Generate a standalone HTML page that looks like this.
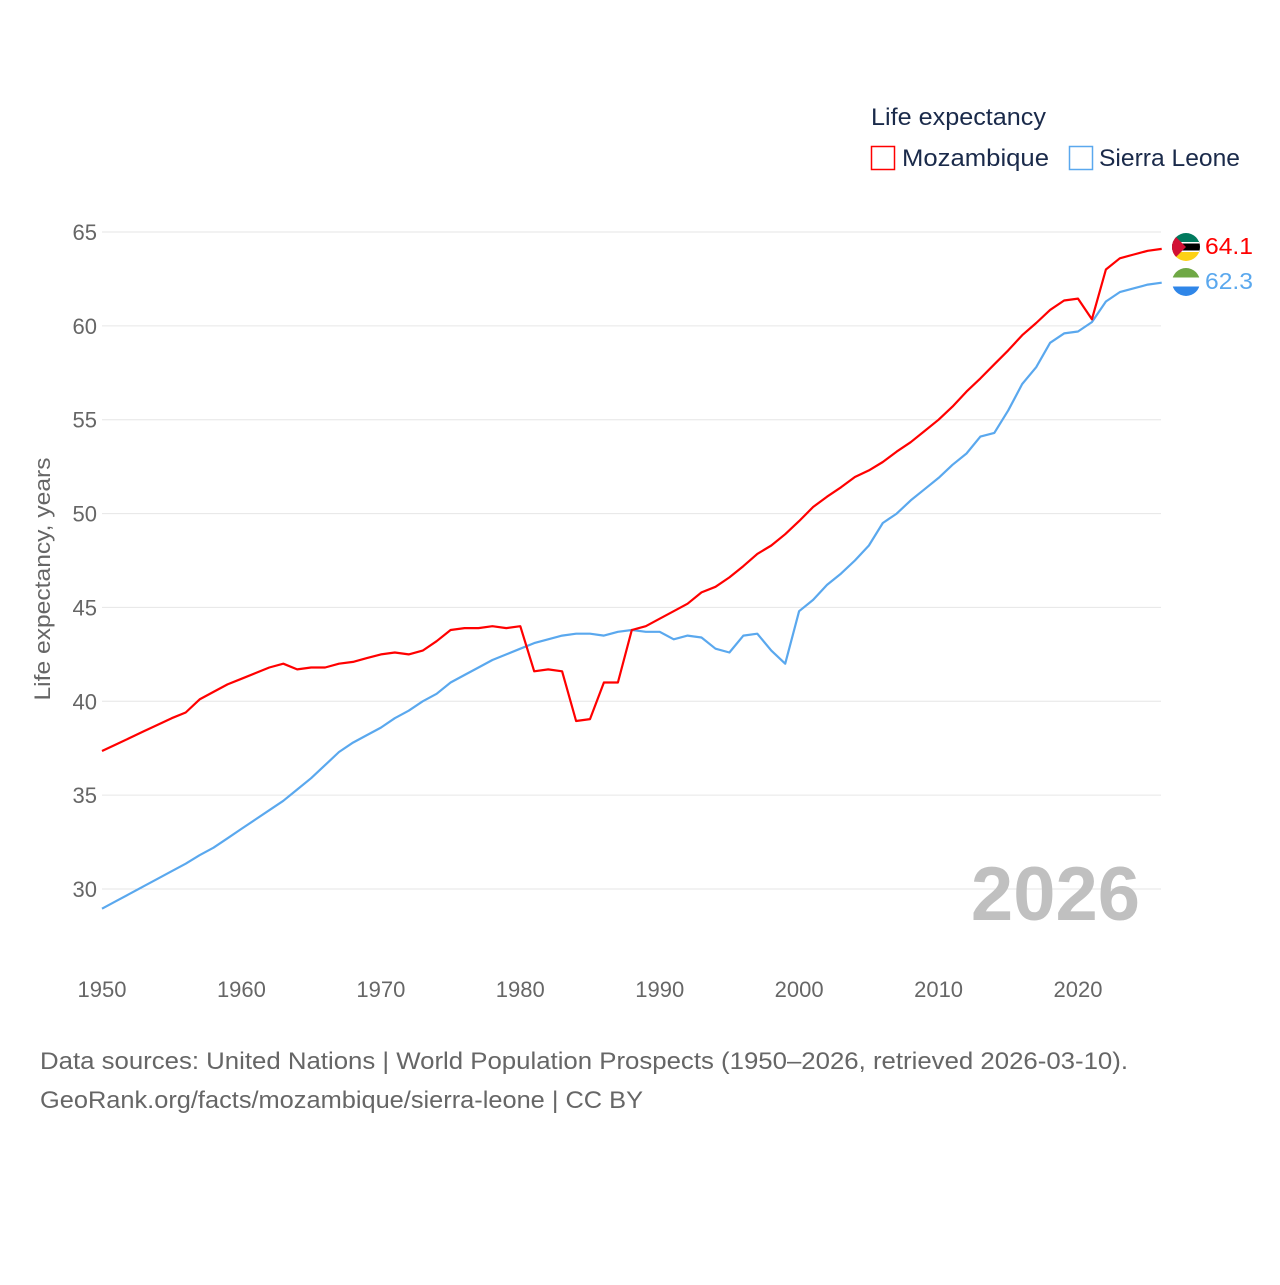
<!DOCTYPE html>
<html><head><meta charset="utf-8"><style>
body{margin:0;background:#fff;}
svg text{font-family:"Liberation Sans",sans-serif;}
</style></head><body>
<svg id="chart" width="1280" height="1280" xmlns="http://www.w3.org/2000/svg">
<g id="grid"></g>
<g id="xticks"></g>
<text x="50" y="579" font-size="22" fill="#666" text-anchor="middle" textLength="243" lengthAdjust="spacingAndGlyphs" transform="rotate(-90 50 579)">Life expectancy, years</text>
<text x="1140" y="920" font-size="76" font-weight="bold" fill="#c0c0c0" text-anchor="end">2026</text>
<g id="lines"></g>
<g>
<text x="871" y="125" font-size="24" fill="#1a2a4a" textLength="175" lengthAdjust="spacingAndGlyphs">Life expectancy</text>
<g><rect x="871.5" y="146.5" width="23" height="23" fill="none" stroke="#ff0000" stroke-width="1.5"/><text x="902" y="166" font-size="24" fill="#1a2a4a" textLength="147" lengthAdjust="spacingAndGlyphs">Mozambique</text></g>
<g><rect x="1069.5" y="146.5" width="23" height="23" fill="none" stroke="#5aa8ee" stroke-width="1.5"/><text x="1099" y="166" font-size="24" fill="#1a2a4a" textLength="141" lengthAdjust="spacingAndGlyphs">Sierra Leone</text></g>
</g>
<defs><clipPath id="c1"><circle cx="1186" cy="247" r="14"/></clipPath><clipPath id="c2"><circle cx="1186" cy="282" r="14"/></clipPath></defs>
<g clip-path="url(#c1)">
<rect x="1172" y="233" width="28" height="9" fill="#007a5e"/><rect x="1172" y="242" width="28" height="10" fill="#000"/><rect x="1172" y="242" width="28" height="1.5" fill="#fff"/><rect x="1172" y="250.5" width="28" height="1.5" fill="#fff"/><rect x="1172" y="252" width="28" height="9" fill="#fcd116"/><polygon points="1172,233 1186,247 1172,261" fill="#d21034"/></g>
<g clip-path="url(#c2)">
<rect x="1172" y="268" width="28" height="9.5" fill="#6fa845"/><rect x="1172" y="277.5" width="28" height="9" fill="#fff"/><rect x="1172" y="286.5" width="28" height="10" fill="#2f86e8"/></g>
<text x="1205" y="254" font-size="23" fill="#ff0000" textLength="48" lengthAdjust="spacingAndGlyphs">64.1</text>
<text x="1205" y="289" font-size="23" fill="#5aa8ee" textLength="48" lengthAdjust="spacingAndGlyphs">62.3</text>
<text x="40" y="1069" font-size="24" fill="#666" textLength="1088" lengthAdjust="spacingAndGlyphs">Data sources: United Nations | World Population Prospects (1950–2026, retrieved 2026-03-10).</text>
<text x="40" y="1108" font-size="24" fill="#666" textLength="603" lengthAdjust="spacingAndGlyphs">GeoRank.org/facts/mozambique/sierra-leone | CC BY</text>
</svg>
<script>
const years=[];for(let y=1950;y<=2026;y++)years.push(y);
const mozambique=[37.35,37.7,38.05,38.4,38.75,39.1,39.4,40.1,40.5,40.9,41.2,41.5,41.8,42.0,41.7,41.8,41.8,42.0,42.1,42.3,42.5,42.6,42.5,42.7,43.2,43.8,43.9,43.9,44.0,43.9,44.0,41.6,41.7,41.6,38.95,39.05,41.0,41.0,43.8,44.0,44.4,44.8,45.2,45.8,46.1,46.6,47.2,47.85,48.3,48.9,49.6,50.35,50.9,51.4,51.95,52.3,52.75,53.3,53.8,54.4,55.0,55.7,56.5,57.2,57.95,58.7,59.5,60.15,60.85,61.35,61.45,60.35,63.0,63.6,63.8,64.0,64.1];
const sierraLeone=[28.95,29.35,29.75,30.15,30.55,30.95,31.35,31.8,32.2,32.7,33.2,33.7,34.2,34.7,35.3,35.9,36.6,37.3,37.8,38.2,38.6,39.1,39.5,40.0,40.4,41.0,41.4,41.8,42.2,42.5,42.8,43.1,43.3,43.5,43.6,43.6,43.5,43.7,43.8,43.7,43.7,43.3,43.5,43.4,42.8,42.6,43.5,43.6,42.7,42.0,44.8,45.4,46.2,46.8,47.5,48.3,49.5,50.0,50.7,51.3,51.9,52.6,53.2,54.1,54.3,55.5,56.9,57.8,59.1,59.6,59.7,60.2,61.3,61.8,62.0,62.2,62.3];
const yTicks=[30,35,40,45,50,55,60,65];
const xTicks=[1950,1960,1970,1980,1990,2000,2010,2020];
const NS="http://www.w3.org/2000/svg";
const X=v=>102+(v-1950)*(976/70);
const Y=v=>232+(65-v)*(657/35);
const grid=document.getElementById('grid'),xt=document.getElementById('xticks'),lines=document.getElementById('lines');
yTicks.forEach(t=>{
 const l=document.createElementNS(NS,'line');
 
 
 l.setAttribute('x1',102);l.setAttribute('x2',1161);l.setAttribute('y1',Y(t));l.setAttribute('y2',Y(t));l.setAttribute('stroke','#e6e6e6');l.setAttribute('stroke-width','1');
 grid.appendChild(l);
 const tx=document.createElementNS(NS,'text');
 
 
 tx.setAttribute('x',97);tx.setAttribute('y',Y(t)+8);tx.setAttribute('text-anchor','end');tx.setAttribute('font-size','22');tx.setAttribute('fill','#666');tx.textContent=t;
 grid.appendChild(tx);
});
xTicks.forEach(t=>{
 const tx=document.createElementNS(NS,'text');
 
 
 tx.setAttribute('x',X(t));tx.setAttribute('y',997);tx.setAttribute('text-anchor','middle');tx.setAttribute('font-size','22');tx.setAttribute('fill','#666');tx.textContent=t;
 xt.appendChild(tx);
});
function draw(vals,color,name){
 const p=document.createElementNS(NS,'polyline');
 
 
 p.setAttribute('points',vals.map((v,i)=>X(years[i]).toFixed(1)+','+Y(v).toFixed(1)).join(' '));
 p.setAttribute('fill','none');p.setAttribute('stroke',color);p.setAttribute('stroke-width','2.2');p.setAttribute('stroke-linejoin','round');
 lines.appendChild(p);
}
draw(sierraLeone,'#5aa8ee','line-sierra-leone');
draw(mozambique,'#ff0000','line-mozambique');
</script>
</body></html>
